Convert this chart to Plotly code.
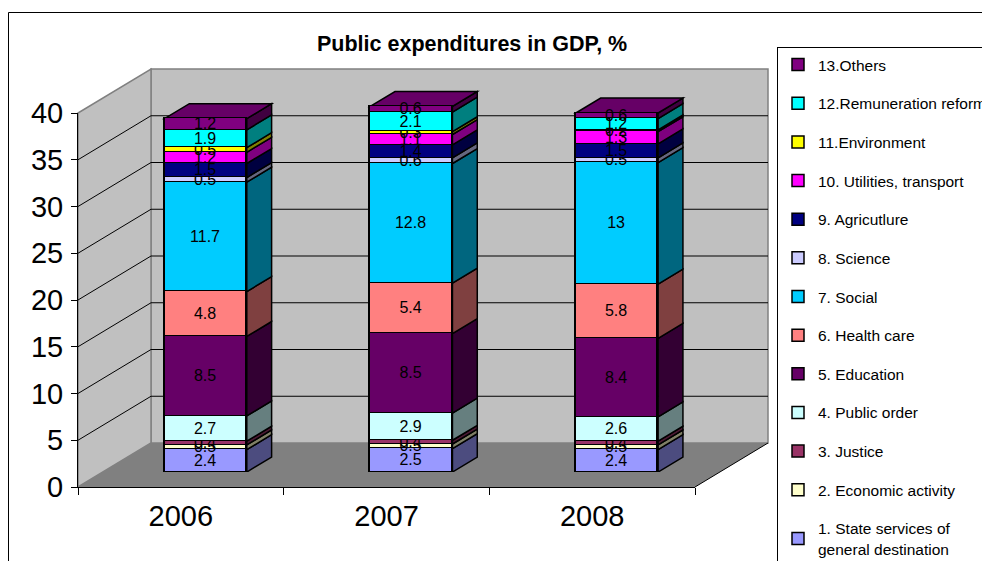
import plotly.graph_objects as go

# ---------------- data ----------------
years = ["2006", "2007", "2008"]
series_names = [
    "1. State services of<br>general destination",
    "2. Economic activity",
    "3. Justice",
    "4. Public order",
    "5. Education",
    "6. Health care",
    "7. Social",
    "8. Science",
    "9. Agricutlure",
    "10. Utilities, transport",
    "11.Environment",
    "12.Remuneration reform",
    "13.Others",
]
values_2006 = [2.4, 0.5, 0.4, 2.7, 8.5, 4.8, 11.7, 0.5, 1.5, 1.2, 0.5, 1.9, 1.2]
values_2007 = [2.5, 0.5, 0.4, 2.9, 8.5, 5.4, 12.8, 0.6, 1.4, 1.1, 0.3, 2.1, 0.6]
values_2008 = [2.4, 0.5, 0.4, 2.6, 8.4, 5.8, 13.0, 0.5, 1.5, 1.3, 0.2, 1.2, 0.6]
y_ticks = [0, 5, 10, 15, 20, 25, 30, 35, 40]

colors = ["#9999FF", "#FFFFCC", "#993366", "#CCFFFF", "#660066", "#FF8080",
          "#00CCFF", "#CCCCFF", "#000080", "#FF00FF", "#FFFF00", "#00FFFF", "#800080"]

# ---------------- geometry (styling) ----------------
FW, FH = 982, 561
S = 9.35            # px per unit
X0, Y0 = 78, 487    # front plane origin (px)
XR = 695            # front plane right end
DX, DY = 73, -44    # depth vector (px)
F = 0.34            # bar front-face depth fraction
BX, BY = DX * F, DY * F
YMAX = 40
YMAX_BAR = 45
CAT_W = (XR - X0) / 3.0
BAR_W = 0.40
FONT = "Liberation Sans, Arial, sans-serif"


def px(x):
    return x / FW


def py(y):
    return 1 - y / FH


def shade(hexc, f):
    h = hexc.lstrip("#")
    r, g, b = int(h[0:2], 16), int(h[2:4], 16), int(h[4:6], 16)
    return "#%02X%02X%02X" % (int(r * f), int(g * f), int(b * f))


values_by_year = [values_2006, values_2007, values_2008]
n = len(series_names)

fig = go.Figure()

# bars (front faces) on x/y subplot
for i, name in enumerate(series_names):
    vals = [values_by_year[j][i] for j in range(len(years))]
    fig.add_trace(go.Bar(
        x=list(range(len(years))), y=vals, name=name,
        marker=dict(color=colors[i], line=dict(color="black", width=1.5)),
        width=BAR_W,
        text=[("%g" % v) for v in vals],
        textposition="inside", insidetextanchor="middle", textangle=0,
        textfont=dict(color="black", size=16, family=FONT),
        legendgroup="g%02d" % i, legendrank=100 + (n - i),
        xaxis="x", yaxis="y",
    ))

# dummy trace for the labelled front axis subplot
fig.add_trace(go.Scatter(x=[None], y=[None], xaxis="x2", yaxis="y2",
                         showlegend=False, hoverinfo="skip"))

shapes = []

# ---- walls & floor (paper coords, below everything) ----
ytop_front = Y0 - YMAX * S
back_x0, back_y0 = X0 + DX, Y0 + DY
back_x1 = XR + DX
ytop_back = back_y0 - YMAX * S


def poly(pts):
    return "M " + " L ".join("%f,%f" % (px(a), py(b)) for a, b in pts) + " Z"


shapes.append(dict(type="path", xref="paper", yref="paper", layer="below",
                   path=poly([(back_x0, back_y0), (back_x1, back_y0), (back_x1, ytop_back), (back_x0, ytop_back)]),
                   fillcolor="#C0C0C0", line=dict(color="#808080", width=1.5)))
shapes.append(dict(type="path", xref="paper", yref="paper", layer="below",
                   path=poly([(X0, Y0), (back_x0, back_y0), (back_x0, ytop_back), (X0, ytop_front)]),
                   fillcolor="#C0C0C0", line=dict(color="#808080", width=1.5)))
shapes.append(dict(type="path", xref="paper", yref="paper", layer="below",
                   path=poly([(X0, Y0), (XR, Y0), (back_x1, back_y0), (back_x0, back_y0)]),
                   fillcolor="#808080", line=dict(width=0)))
shapes.append(dict(type="line", xref="paper", yref="paper", layer="below",
                   x0=px(XR), y0=py(Y0), x1=px(back_x1), y1=py(back_y0),
                   line=dict(color="black", width=1)))
for v in y_ticks[1:-1]:
    yf = Y0 - v * S
    yb = back_y0 - v * S
    shapes.append(dict(type="line", xref="paper", yref="paper", layer="below",
                       x0=px(X0), y0=py(yf), x1=px(back_x0), y1=py(yb),
                       line=dict(color="black", width=1)))
    shapes.append(dict(type="line", xref="paper", yref="paper", layer="below",
                       x0=px(back_x0), y0=py(yb), x1=px(back_x1), y1=py(yb),
                       line=dict(color="black", width=1)))

# outer chart border
shapes.append(dict(type="rect", xref="paper", yref="paper", layer="below",
                   x0=px(8.5), y0=py(12.5), x1=px(1000), y1=py(600),
                   line=dict(color="black", width=1), fillcolor="rgba(0,0,0,0)"))

# ---- 3D side & top faces of bars (data coords of bar subplot) ----
ddx = BX / CAT_W
ddy = -BY / S
half = BAR_W / 2
for j in range(len(years)):
    cum = 0.0
    xl, xr = j - half, j + half
    for i in range(n):
        v = values_by_year[j][i]
        y0, y1 = cum, cum + v
        cum = y1
        path = "M %f,%f L %f,%f L %f,%f L %f,%f Z" % (
            xr, y0, xr + ddx, y0 + ddy, xr + ddx, y1 + ddy, xr, y1)
        shapes.append(dict(type="path", xref="x", yref="y", layer="between", path=path,
                           fillcolor=shade(colors[i], 0.5), line=dict(color="black", width=1.5)))
    top_color = shade(colors[n - 1], 0.8)
    path = "M %f,%f L %f,%f L %f,%f L %f,%f Z" % (
        xl, cum, xl + ddx, cum + ddy, xr + ddx, cum + ddy, xr, cum)
    shapes.append(dict(type="path", xref="x", yref="y", layer="between", path=path,
                       fillcolor=top_color, line=dict(color="black", width=1.5)))

# ---------------- layout ----------------
bar_bottom_px = Y0 + BY
bar_top_px = bar_bottom_px - YMAX_BAR * S

fig.update_layout(
    width=FW, height=FH,
    margin=dict(l=0, r=0, t=0, b=0, autoexpand=False),
    paper_bgcolor="white", plot_bgcolor="rgba(0,0,0,0)",
    barmode="stack", bargap=0,
    showlegend=True,
    uniformtext=dict(minsize=16, mode="show"),
    font=dict(family=FONT, color="black"),
    shapes=shapes,
    xaxis=dict(domain=[px(X0 + BX), px(XR + BX)], range=[-0.5, 2.5], visible=False,
               anchor="y", fixedrange=True),
    yaxis=dict(domain=[py(bar_bottom_px), py(bar_top_px)], range=[0, YMAX_BAR], visible=False,
               anchor="x", fixedrange=True),
    xaxis2=dict(domain=[px(X0), px(XR)], range=[-0.5, 2.5], anchor="y2",
                tickmode="array", tickvals=list(range(len(years))), ticktext=years,
                ticks="", showgrid=False, zeroline=False,
                showline=True, linecolor="black", linewidth=1,
                tickfont=dict(size=29, family=FONT, color="black"),
                ticklabelstandoff=3,
                minor=dict(ticks="outside", tick0=-0.5, dtick=1, ticklen=7,
                           tickcolor="black", showgrid=False)),
    yaxis2=dict(domain=[py(Y0), py(ytop_front)], range=[0, YMAX], anchor="x2",
                tickmode="array", tickvals=y_ticks,
                ticks="outside", ticklen=6, tickcolor="black",
                showgrid=False, zeroline=False,
                showline=True, linecolor="black", linewidth=1,
                tickfont=dict(size=29, family=FONT, color="black"),
                ticklabelstandoff=2),
    legend=dict(x=px(777), y=py(47), xanchor="left", yanchor="top",
                bgcolor="white", bordercolor="black", borderwidth=1,
                font=dict(size=15.5, family=FONT, color="black"),
                traceorder="grouped", tracegroupgap=15.5,
                itemclick=False, itemdoubleclick=False),
    annotations=[dict(text="<b>Public expenditures in GDP, %</b>", x=px(472), y=py(44),
                      xref="paper", yref="paper", xanchor="center", yanchor="middle",
                      showarrow=False, font=dict(size=21.5, family=FONT, color="black"))],
)

fig.write_html("out.html")
